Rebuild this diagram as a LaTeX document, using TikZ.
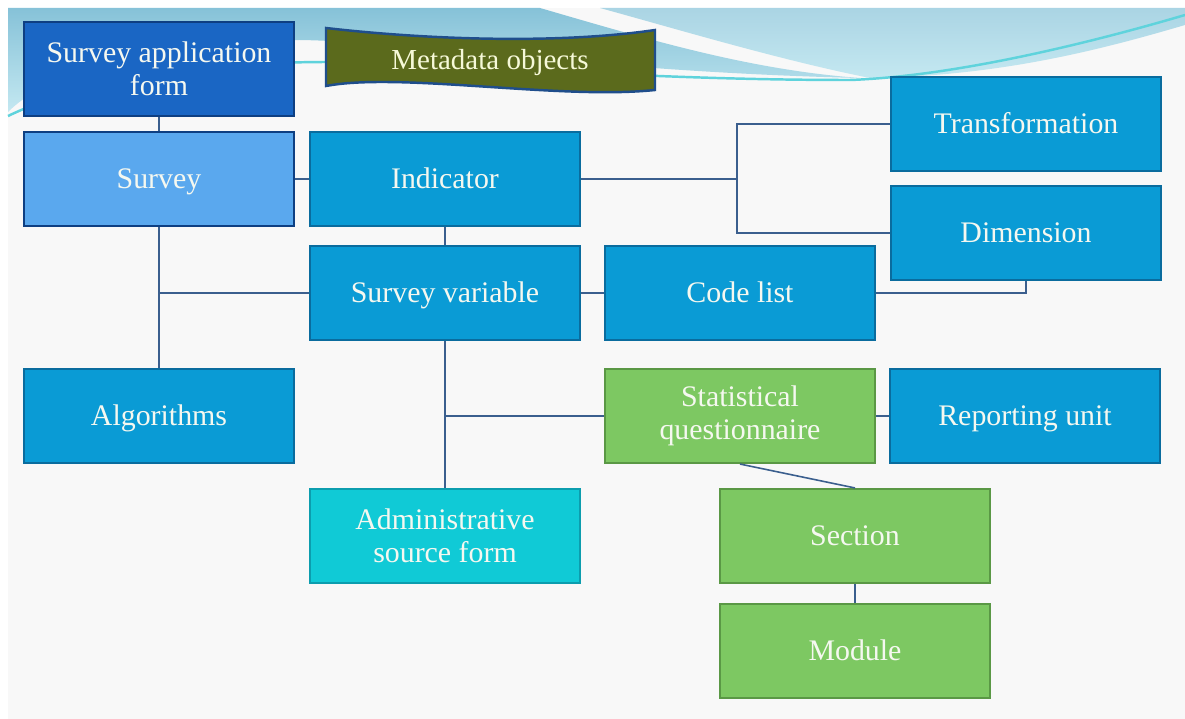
\documentclass[tikz,border=0pt]{standalone}
\usepackage{fontspec}
\setmainfont{Liberation Serif}
\usepackage{tikz}
\usetikzlibrary{shapes,arrows.meta,positioning,calc}

\definecolor{bgoff}{HTML}{F8F8F8}
\definecolor{skytop}{HTML}{86C2D8}
\definecolor{skybot}{HTML}{C4E8F1}
\definecolor{swoosh}{HTML}{5FD3DC}
\definecolor{formblue}{HTML}{1A66C4}
\definecolor{formedge}{HTML}{0E3F82}
\definecolor{lightblue}{HTML}{5AA8EE}
\definecolor{midblue}{HTML}{0A9BD5}
\definecolor{midedge}{HTML}{0A6C9E}
\definecolor{qgreen}{HTML}{7DC862}
\definecolor{qedge}{HTML}{5A9845}
\definecolor{admcyan}{HTML}{10CAD6}
\definecolor{admedge}{HTML}{0C9DAE}
\definecolor{olive}{HTML}{5B6A1C}
\definecolor{oliveedge}{HTML}{1F4E8C}
\definecolor{linkcol}{HTML}{3B5F8E}
\definecolor{boxtext}{HTML}{F5F8F0}

\begin{document}
\begin{tikzpicture}[
  x=0.02cm, y=-0.02cm,
  obj/.style={rectangle,draw=midedge,fill=midblue,line width=1.2pt,minimum width=5.4cm,minimum height=1.88cm,
    align=center,text=boxtext,font=\fontsize{17}{18.5}\selectfont,inner sep=2pt},
  one/.style={text height=12pt,text depth=1pt},
  formobj/.style={obj,fill=formblue,draw=formedge},
  topobj/.style={obj,fill=lightblue,draw=formedge},
  quest/.style={obj,fill=qgreen,draw=qedge},
  admobj/.style={obj,fill=admcyan,draw=admedge},
  link/.style={draw=linkcol,line width=0.9pt}
]
  % background
  \useasboundingbox (0,0) rectangle (1185,719);
  \fill[white] (0,0) rectangle (1185,719);
  \fill[bgoff] (8,8) rectangle (1185,719);
  \shade[top color=skytop,bottom color=skybot] (8,8) -- (540,8)
    .. controls (650,40) and (750,70) .. (860,78)
    .. controls (600,72) and (420,42) .. (300,40)
    .. controls (150,42) and (50,70) .. (8,112) -- cycle;
  \shade[top color=skytop!70!white,bottom color=skybot] (600,8) -- (1185,8) -- (1185,25)
    .. controls (1100,50) and (1000,76) .. (870,78)
    .. controls (780,60) and (680,30) .. (600,8) -- cycle;
  \draw[swoosh,line width=1.4pt] (8,116) .. controls (100,72) and (230,62) .. (330,62)
    .. controls (500,66) and (650,80) .. (850,80)
    .. controls (960,76) and (1100,40) .. (1185,15);

  % title banner
  \draw[fill=olive,draw=oliveedge,line width=1.4pt] (326,28)
    .. controls (430,40) and (560,44) .. (655,30) -- (655,90)
    .. controls (560,100) and (400,72) .. (326,86) -- cycle;
  \node[one,text=boxtext!90!yellow,font=\fontsize{16.5}{18}\selectfont] (banner) at (490,60) {Metadata objects};

  % boxes
  \node[formobj] (sappform) at (159,69) {Survey application\\form};
  \node[topobj,one] (survey) at (159,179) {Survey};
  \node[obj,one] (indicator) at (445,179) {Indicator};
  \node[obj,one] (transformation) at (1026,124) {Transformation};
  \node[obj,one] (dimension) at (1026,233) {Dimension};
  \node[obj,one] (survvar) at (445,293) {Survey variable};
  \node[obj,one] (codelist) at (740,293) {Code list};
  \node[obj,one] (algorithms) at (159,416) {Algorithms};
  \node[quest] (statq) at (740,416) {Statistical\\questionnaire};
  \node[obj,one] (repunit) at (1025,416) {Reporting unit};
  \node[admobj] (admin) at (445,536) {Administrative\\source form};
  \node[quest,one] (section) at (855,536) {Section};
  \node[quest,one] (module) at (855,651) {Module};

  % links
  \coordinate (jt) at (737,179);
  \draw[link] (sappform) -- (survey);
  \draw[link] (survey) -- (indicator);
  \draw[link] (indicator) -- (jt);
  \draw[link] (transformation.west) -| (jt) |- (dimension.west);
  \draw[link] (survey) -- (algorithms);
  \draw[link] (survvar.west) -- (survvar.west -| survey.south);
  \draw[link] (indicator) -- (survvar);
  \draw[link] (survvar) -- (codelist);
  \draw[link] (codelist.east) -| (dimension.south);
  \draw[link] (survvar) -- (admin);
  \draw[link] (statq.west) -- (statq.west -| survvar.south);
  \draw[link] (statq) -- (repunit);
  \draw[link] (statq.south) -- (section.north);
  \draw[link] (section) -- (module);
\end{tikzpicture}
\end{document}
